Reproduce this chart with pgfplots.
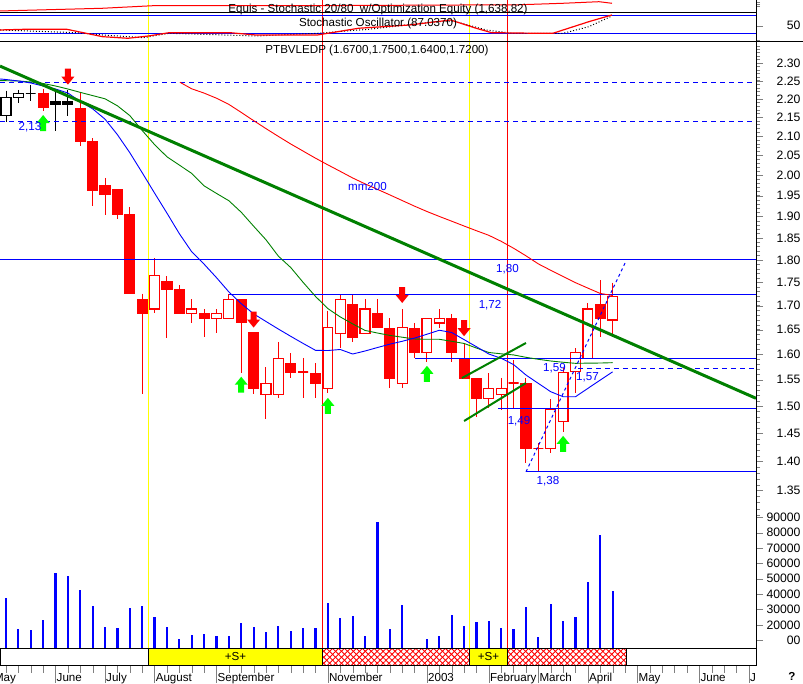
\documentclass[border=0pt]{standalone}
\usepackage{pgfplots}
\pgfplotsset{compat=1.18}
\usepackage{pgfplotstable}
\usepackage{fontspec}
\setmainfont{Liberation Sans}
\usetikzlibrary{patterns.meta}

\definecolor{dgreen}{RGB}{0,128,0}
\definecolor{lgreen}{RGB}{0,255,0}
\definecolor{pblue}{RGB}{0,0,255}
\definecolor{pred}{RGB}{255,0,0}
\definecolor{pyel}{RGB}{255,255,0}
\newcommand\cf{\fontsize{11.6}{13}\selectfont}
\newcommand\tf{\fontsize{12.2}{14}\selectfont}

\pgfdeclareplotmark{dnarrow}{%
  \pgfpathmoveto{\pgfqpoint{-3pt}{8pt}}\pgfpathlineto{\pgfqpoint{3pt}{8pt}}%
  \pgfpathlineto{\pgfqpoint{3pt}{0pt}}\pgfpathlineto{\pgfqpoint{6.5pt}{0pt}}%
  \pgfpathlineto{\pgfqpoint{0pt}{-8pt}}\pgfpathlineto{\pgfqpoint{-6.5pt}{0pt}}%
  \pgfpathlineto{\pgfqpoint{-3pt}{0pt}}\pgfpathclose\pgfusepathqfill}
\pgfdeclareplotmark{uparrow}{%
  \pgfpathmoveto{\pgfqpoint{-3pt}{-8pt}}\pgfpathlineto{\pgfqpoint{3pt}{-8pt}}%
  \pgfpathlineto{\pgfqpoint{3pt}{0pt}}\pgfpathlineto{\pgfqpoint{6.5pt}{0pt}}%
  \pgfpathlineto{\pgfqpoint{0pt}{8pt}}\pgfpathlineto{\pgfqpoint{-6.5pt}{0pt}}%
  \pgfpathlineto{\pgfqpoint{-3pt}{0pt}}\pgfpathclose\pgfusepathqfill}

% weekly candles: k 0 up red, 1 down red, 2 up black, 3 down black
\pgfplotstableread{
i o h l c k
0 2.154 2.223 2.138 2.205 2
1 2.204 2.225 2.188 2.216 2
2 2.216 2.239 2.195 2.216 2
3 2.214 2.227 2.168 2.176 1
4 2.194 2.220 2.115 2.185 3
5 2.194 2.225 2.154 2.185 3
6 2.173 2.217 2.075 2.086 1
7 2.086 2.095 1.926 1.964 1
8 1.974 1.994 1.904 1.954 1
9 1.964 1.964 1.895 1.904 1
10 1.904 1.923 1.726 1.726 1
11 1.714 1.726 1.523 1.683 1
12 1.693 1.804 1.684 1.766 0
13 1.753 1.764 1.634 1.735 1
14 1.734 1.745 1.684 1.684 1
15 1.684 1.714 1.664 1.693 0
16 1.683 1.693 1.636 1.673 1
17 1.674 1.693 1.644 1.684 0
18 1.674 1.725 1.674 1.714 0
19 1.714 1.714 1.563 1.665 1
20 1.644 1.644 1.523 1.534 1
21 1.522 1.574 1.476 1.543 0
22 1.522 1.625 1.515 1.592 0
23 1.582 1.602 1.554 1.564 1
24 1.565 1.593 1.515 1.565 1
25 1.563 1.582 1.515 1.544 1
26 1.534 1.689 1.524 1.655 0
27 1.643 1.724 1.612 1.714 0
28 1.702 1.724 1.625 1.634 1
29 1.643 1.714 1.643 1.693 0
30 1.683 1.714 1.654 1.654 1
31 1.653 1.674 1.534 1.552 1
32 1.543 1.693 1.534 1.654 0
33 1.653 1.664 1.592 1.604 1
34 1.604 1.674 1.585 1.674 0
35 1.664 1.693 1.653 1.674 0
36 1.674 1.683 1.584 1.604 1
37 1.592 1.622 1.552 1.552 1
38 1.552 1.552 1.480 1.515 1
39 1.515 1.563 1.496 1.534 0
40 1.522 1.554 1.493 1.534 0
41 1.544 1.589 1.494 1.544 1
42 1.543 1.553 1.397 1.423 1
43 1.423 1.432 1.382 1.423 1
44 1.422 1.513 1.414 1.493 0
45 1.471 1.573 1.453 1.564 0
46 1.566 1.612 1.524 1.603 0
47 1.592 1.705 1.592 1.693 0
48 1.702 1.755 1.636 1.674 1
49 1.670 1.750 1.640 1.720 0
}\candles

\pgfplotstableread{
i v
0 37700
1 17200
2 16700
3 23200
4 54000
5 51800
6 42700
7 32300
8 18700
9 18000
10 31200
11 32500
12 25200
13 18700
14 10900
15 13600
16 14100
17 13000
18 13000
19 21500
20 18900
21 15600
22 19500
23 16100
24 18200
25 18000
26 34300
27 24700
28 26000
29 13000
30 87100
31 17600
32 33000
34 10700
35 12800
36 26300
37 19300
38 21700
39 22600
40 18000
41 17200
42 31700
43 12200
44 33400
45 22600
46 25000
47 47700
48 78500
49 42100
}\volume

% short moving average (blue)
\pgfplotstableread{
i p
-0.485 2.2554
0 2.254
1 2.2498
2 2.2442
3 2.2358
4 2.2275
5 2.2164
6 2.1930
7 2.1729
8 2.1452
9 2.1041
10 2.0574
11 2.0067
12 1.9566
13 1.9084
14 1.8600
15 1.8185
16 1.7906
17 1.7607
18 1.7296
19 1.7045
20 1.6828
21 1.6669
22 1.6514
23 1.6364
24 1.6220
25 1.6081
26 1.6077
27 1.6097
28 1.6007
29 1.6067
30 1.6137
31 1.6204
32 1.6263
33 1.6328
34 1.6407
35 1.6489
36 1.6442
37 1.6297
38 1.6153
39 1.6007
40 1.5921
41 1.5798
42 1.5593
43 1.5430
44 1.5272
45 1.5177
46 1.5177
47 1.5335
48 1.5496
49 1.5655
}\mablue

% medium moving average (green)
\pgfplotstableread{
i p
-0.485 2.2506
0 2.2506
1 2.2498
2 2.2470
3 2.2428
4 2.2358
5 2.2275
6 2.2181
7 2.2092
8 2.2004
9 2.1813
10 2.1548
11 2.1151
12 2.0783
13 2.0469
14 2.0258
15 2.0050
16 1.9742
17 1.9558
18 1.9381
19 1.9103
20 1.8775
21 1.8459
22 1.8085
23 1.7830
24 1.7502
25 1.7199
26 1.6939
27 1.6765
28 1.6619
29 1.6485
30 1.6432
31 1.6383
32 1.6346
33 1.6309
34 1.6303
35 1.6303
36 1.6263
37 1.6220
38 1.6127
39 1.6037
40 1.6011
41 1.5989
42 1.5941
43 1.5902
44 1.5868
45 1.5844
46 1.5822
47 1.5826
48 1.5828
49 1.5835
}\magreen

% mm200 (red)
\pgfplotstableread{
i p
14.05 2.2462
15 2.2280
16 2.2161
17 2.2020
18 2.1851
19 2.1634
20 2.1414
21 2.1201
22 2.0996
23 2.0798
24 2.0615
25 2.0433
26 2.0263
27 2.0100
28 1.9938
29 1.9794
30 1.9659
31 1.9524
32 1.9386
33 1.9251
34 1.9122
35 1.9005
36 1.8892
37 1.8777
38 1.8667
39 1.8561
40 1.8422
41 1.8264
42 1.8092
43 1.7910
44 1.7768
45 1.7631
46 1.7495
47 1.7378
48 1.7263
49 1.7218
}\mared

\pgfplotstableread{
i v
-0.485 36.7
1.58 38.9
4.9 38.9
7.79 16.0
9.85 11.0
11.51 18.1
13.17 28.3
18.09 28.3
20.19 21.2
25.16 21.2
28.47 42.0
32.6 52.2
35.91 67.6
37.98 42.0
39.22 28.3
42.94 26.5
44.18 26.5
47.08 62.4
48.94 83.1
}\stochk

\pgfplotstableread{
i v
-0.485 36.7
5.72 28.3
7.79 21.2
11.1 12.9
13.17 26.5
20.19 18.1
25.16 26.5
29.3 38.9
34.67 62.4
36.32 62.4
38.8 36.7
40.87 26.5
45.01 26.5
47.08 46.9
48.94 80.0
}\stochd

\pgfplotstableread{
i v
-0.485 95.5
7.75 103.8
11.92 111.9
24.31 111.9
36.75 114.0
40.87 114.0
44.99 119.3
47.9 124.2
48.95 119.3
}\equity

\pgfplotsset{
  chart/.style={scale only axis, width=756pt, xmin=-0.485, xmax=60.58,
    anchor=south west, clip mode=individual},
  rlabels/.style={tick align=outside, major tick length=7pt, minor tick length=4pt,
    scaled y ticks=false,
    yticklabel style={font=\tf, anchor=east, xshift=41pt}},
  ck0/.style={draw=pred, fill=white}, ck1/.style={draw=pred, fill=pred},
  ck2/.style={draw=black, fill=white}, ck3/.style={draw=black, fill=black},
  wk0/.style={pred}, wk1/.style={pred}, wk2/.style={black}, wk3/.style={black},
}

\begin{document}
\begin{tikzpicture}[x=1pt,y=1pt]
\useasboundingbox (0,0) rectangle (803,684);

% signal lines through the whole chart
\begin{axis}[chart, at={(0pt,36pt)}, height=648pt, ymin=0, ymax=1, hide axis]
  \addplot[pyel, line width=1pt] coordinates {(11.51,0) (11.51,1)};
  \addplot[pred, line width=1pt] coordinates {(25.57,0) (25.57,1)};
  \addplot[pyel, line width=1pt] coordinates {(37.44,0) (37.44,1)};
  \addplot[pred, line width=1pt] coordinates {(40.51,0) (40.51,1)};
\end{axis}

% stochastic panel
\begin{axis}[chart, at={(0pt,642.7pt)}, height=41.3pt, ymin=1.7, ymax=129.5,
  axis x line=none, axis y line*=right, rlabels,
  ytick={50}, yticklabels={50}, minor ytick={6,111,117,123}]
  \addplot[black, line width=1pt] coordinates {(-0.485,91.4) (60.58,91.4)};
  \addplot[pblue, line width=1pt] coordinates {(-0.485,80) (60.58,80)};
  \addplot[pblue, line width=1pt] coordinates {(-0.485,26.5) (60.58,26.5)};
  \addplot[pred, line width=1pt] table[x=i, y=v] {\equity};
  \addplot[black, dotted, line width=1pt] table[x=i, y=v] {\stochd};
  \addplot[pred, line width=1.2pt] table[x=i, y=v] {\stochk};
\end{axis}

% volume
\begin{axis}[chart, at={(0pt,36pt)}, height=143pt, ymin=5000, ymax=98000,
  axis x line=none, axis y line*=right, rlabels,
  ytick={10000,20000,30000,40000,50000,60000,70000,80000,90000},
  yticklabels={00,20000,30000,40000,50000,60000,70000,80000,90000}]
  \addplot[ycomb, pblue, line width=2.2pt] table[x=i, y=v] {\volume};
\end{axis}

% price
\begin{axis}[chart, at={(0pt,36pt)}, height=606.7pt, ymode=log, ymin=1.1094, ymax=2.364,
  axis x line=none, axis y line*=right, rlabels,
  ytick={1.35,1.40,1.45,1.50,1.55,1.60,1.65,1.70,1.75,1.80,1.85,1.90,1.95,2.00,2.05,2.10,2.15,2.20,2.25,2.30},
  yticklabels={1.35,1.40,1.45,1.50,1.55,1.60,1.65,1.70,1.75,1.80,1.85,1.90,1.95,2.00,2.05,2.10,2.15,2.20,2.25,2.30},
  minor ytick={1.31,1.32,...,2.36}]
  \pgfplotstablegetrowsof{\candles}
  \pgfmathtruncatemacro{\nlast}{\pgfplotsretval-1}
  \pgfplotsforeachungrouped \r in {0,...,\nlast}{%
    \pgfplotstablegetelem{\r}{i}\of\candles \let\vI\pgfplotsretval
    \pgfplotstablegetelem{\r}{o}\of\candles \let\vO\pgfplotsretval
    \pgfplotstablegetelem{\r}{h}\of\candles \let\vH\pgfplotsretval
    \pgfplotstablegetelem{\r}{l}\of\candles \let\vL\pgfplotsretval
    \pgfplotstablegetelem{\r}{c}\of\candles \let\vC\pgfplotsretval
    \pgfplotstablegetelem{\r}{k}\of\candles \let\vK\pgfplotsretval
    \pgfmathsetmacro\xa{\vI-0.4}\pgfmathsetmacro\xb{\vI+0.4}%
    \edef\next{%
      \noexpand\addplot[wk\vK, line width=1pt] coordinates {(\vI,\vH) (\vI,\vL)};
      \noexpand\addplot[ck\vK, line width=1.2pt] coordinates {(\xa,\vO) (\xb,\vO) (\xb,\vC) (\xa,\vC)} -- cycle;
    }\next
  }
  % levels
  \addplot[pblue, line width=1pt, dash pattern=on 5pt off 4pt] coordinates {(-0.485,2.246) (60.58,2.246)};
  \addplot[pblue, line width=1pt, dash pattern=on 5pt off 4pt] coordinates {(-0.485,2.1377) (60.58,2.1377)};
  \addplot[pblue, line width=1pt] coordinates {(-0.485,1.80) (60.58,1.80)};
  \addplot[pblue, line width=1pt] coordinates {(18.04,1.7244) (60.58,1.7244)};
  \addplot[pblue, line width=1pt] coordinates {(33.04,1.592) (60.58,1.592)};
  \addplot[pblue, line width=1pt, dash pattern=on 5pt off 4pt] coordinates {(46.2,1.5725) (60.58,1.5725)};
  \addplot[pblue, line width=1pt] coordinates {(39.74,1.4947) (60.58,1.4947)};
  \addplot[pblue, line width=1pt] coordinates {(42.0,1.382) (60.58,1.382)};
  % averages
  \addplot[pred, line width=0.9pt] table[x=i, y=p] {\mared};
  \addplot[dgreen, line width=0.9pt] table[x=i, y=p] {\magreen};
  \addplot[pblue, line width=0.9pt] table[x=i, y=p] {\mablue};
  % trend lines
  \addplot[dgreen, line width=3pt] coordinates {(-0.485,2.292) (60.58,1.5147)};
  \addplot[dgreen, line width=2pt] coordinates {(36.83,1.5535) (42.0,1.6228)};
  \addplot[dgreen, line width=2pt] coordinates {(37.0,1.4724) (42.0,1.5438)};
  \addplot[pblue, line width=1pt, dash pattern=on 3pt off 3pt] coordinates {(42.0,1.382) (50.0,1.793)};
  % signals
  \addplot[only marks, mark=dnarrow, pred] coordinates {(5,2.262) (20,1.671) (32,1.723) (37,1.653)};
  \addplot[only marks, mark=uparrow, lgreen] coordinates {(3,2.135) (19,1.5405) (26,1.5005) (34,1.5617) (45,1.4311)};
  % labels
  \node[pblue, font=\cf] at (axis cs:1.94,2.1244) {2,13};
  \node[pblue, font=\cf] at (axis cs:29.2,1.972) {mm200};
  \node[pblue, font=\cf] at (axis cs:40.51,1.7797) {1,80};
  \node[pblue, font=\cf] at (axis cs:39.1,1.7015) {1,72};
  \node[pblue, font=\cf] at (axis cs:44.3,1.5725) {1,59};
  \node[pblue, font=\cf] at (axis cs:46.97,1.5541) {1,57};
  \node[pblue, font=\cf] at (axis cs:41.44,1.4712) {1,49};
  \node[pblue, font=\cf] at (axis cs:43.78,1.3651) {1,38};
\end{axis}

% signal band and time axis
\begin{axis}[chart, at={(0pt,18.3pt)}, height=17.4pt, ymin=0, ymax=1, ytick=\empty,
  xtick={4,8,12,17,26,34,39,43,47,51,56,60},
  xticklabels={June,July,August,September,November,2003,February,March,April,May,June,J},
  minor xtick={0,1,...,60}, xtick pos=bottom, tick align=outside,
  major tick length=17.3pt, minor tick length=7pt,
  xticklabel style={font=\cf, anchor=north west, inner xsep=1pt, yshift=13pt}]
  \addplot[fill=pyel, draw=black] coordinates {(11.51,0) (25.57,0) (25.57,1) (11.51,1)} -- cycle;
  \addplot[fill=pyel, draw=black] coordinates {(37.44,0) (40.51,0) (40.51,1) (37.44,1)} -- cycle;
  \addplot[draw=black, pattern={Lines[angle=45,distance=4.2pt,line width=0.9pt]}, pattern color=pred] coordinates {(25.57,0) (37.44,0) (37.44,1) (25.57,1)} -- cycle;
  \addplot[draw=black, pattern={Lines[angle=-45,distance=4.2pt,line width=0.9pt]}, pattern color=pred] coordinates {(25.57,0) (37.44,0) (37.44,1) (25.57,1)} -- cycle;
  \addplot[draw=black, pattern={Lines[angle=45,distance=4.2pt,line width=0.9pt]}, pattern color=pred] coordinates {(40.51,0) (50.06,0) (50.06,1) (40.51,1)} -- cycle;
  \addplot[draw=black, pattern={Lines[angle=-45,distance=4.2pt,line width=0.9pt]}, pattern color=pred] coordinates {(40.51,0) (50.06,0) (50.06,1) (40.51,1)} -- cycle;
  \node[font=\cf] at (axis cs:18.54,0.5) {+S+};
  \node[font=\cf] at (axis cs:38.98,0.5) {+S+};
\end{axis}

\draw[black, line width=1pt] (0,642.7) -- (803,642.7);
\draw[black, line width=1pt] (756,18.3) -- (756,684);
\node[font=\cf, anchor=west] at (-9.5,5) {May};
\node[font=\cf] at (378,674) {Equis - Stochastic 20/80\ \ w/Optimization Equity (1,638.82)};
\node[font=\cf] at (378,660.7) {Stochastic Oscillator (87.0370)};
\node[font=\cf] at (377,633.3) {PTBVLEDP (1.6700,1.7500,1.6400,1.7200)};
\node[font=\cf\bfseries] at (792,8) {?};
\end{tikzpicture}
\end{document}
